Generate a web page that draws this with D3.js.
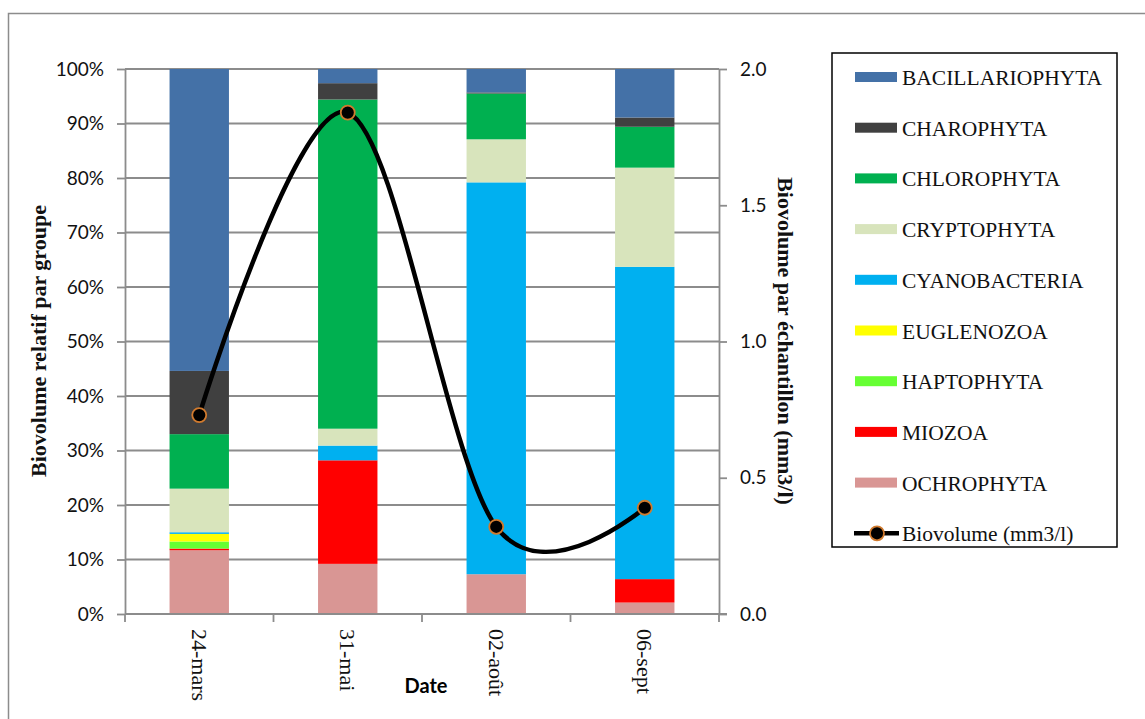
<!DOCTYPE html>
<html><head><meta charset="utf-8">
<script src="https://cdn.jsdelivr.net/npm/d3@7"></script>
<style>body{margin:0;background:#fff}svg{display:block}</style>
</head><body>
<svg id="c" width="1145" height="719"></svg>
<script>
const dates = ["24-mars","31-mai","02-août","06-sept"];
const groups = ["BACILLARIOPHYTA","CHAROPHYTA","CHLOROPHYTA","CRYPTOPHYTA","CYANOBACTERIA","EUGLENOZOA","HAPTOPHYTA","MIOZOA","OCHROPHYTA"];
const bacillariophyta = [55.4, 2.6, 4.3, 8.9];
const charophyta      = [11.6, 3.0, 0.2, 1.7];
const chlorophyta     = [10.0, 60.4, 8.4, 7.5];
const cryptophyta     = [8.0, 3.1, 7.9, 18.2];
const cyanobacteria   = [0.3, 2.7, 71.9, 57.3];
const euglenozoa      = [1.4, 0, 0, 0];
const haptophyta      = [1.3, 0, 0, 0];
const miozoa          = [0.3, 19.0, 0, 4.3];
const ochrophyta      = [11.7, 9.2, 7.3, 2.1];
const biovolume       = [0.73, 1.84, 0.32, 0.39];
const leftTicks  = [0,10,20,30,40,50,60,70,80,90,100];
const rightTicks = [0,0.5,1.0,1.5,2.0];
const colors = ["#4471a7","#404040","#00b050","#d8e4bc","#00b0f0","#ffff00","#66ff33","#ff0000","#d99694"];

const seriesVals = [bacillariophyta,charophyta,chlorophyta,cryptophyta,cyanobacteria,euglenozoa,haptophyta,miozoa,ochrophyta];
const rows = dates.map((d,i)=>{const r={date:d}; groups.forEach((g,j)=>r[g]=seriesVals[j][i]); return r;});

const svg = d3.select("#c");
const L=125, R=719, T=69, B=614;
const x = d3.scaleBand().domain(dates).range([L,R]).paddingInner(0.6).paddingOuter(0.3);
const xb = d3.scaleBand().domain(dates).range([L,R]);
const y = d3.scaleLinear().domain([0,100]).range([B,T]);
const y2 = d3.scaleLinear().domain([0,2]).range([B,T]);

// outer border
svg.append("rect").attr("x",8.5).attr("y",13.5).attr("width",1150).attr("height",720)
  .attr("fill","none").attr("stroke","#8c8c8c").attr("stroke-width",1.5);

// gridlines
svg.append("g").selectAll("line").data(leftTicks.slice(1)).join("line")
  .attr("x1",L).attr("x2",R).attr("y1",d=>y(d)).attr("y2",d=>y(d))
  .attr("stroke","#8c8c8c").attr("stroke-width",1.8);

// stacked bars (bottom-up order is reverse of legend)
const stack = d3.stack().keys(groups.slice().reverse());
const st = stack(rows);
svg.append("g").selectAll("g").data(st).join("g")
  .attr("fill",d=>colors[groups.indexOf(d.key)])
  .selectAll("rect").data(d=>d).join("rect")
  .attr("x",d=>x(d.data.date)).attr("width",x.bandwidth())
  .attr("y",d=>y(d[1])).attr("height",d=>y(d[0])-y(d[1]));

// axes
const axisStyle = g=>{g.selectAll(".domain").attr("stroke","#8c8c8c").attr("stroke-width",1.8);
  g.selectAll(".tick line").attr("stroke","#8c8c8c").attr("stroke-width",1.8);
  g.selectAll("text").attr("fill","#111");};
svg.append("g").attr("transform",`translate(${L},0)`)
  .call(d3.axisLeft(y).tickValues(leftTicks).tickFormat(d=>d+"%").tickSize(8).tickSizeOuter(0).tickPadding(13))
  .call(axisStyle).selectAll("text").attr("font-family","Lato, 'Open Sans', sans-serif").attr("font-size",19);
svg.append("g").attr("transform",`translate(${R},0)`)
  .call(d3.axisRight(y2).tickValues(rightTicks).tickFormat(d3.format(".1f")).tickSize(8).tickSizeOuter(0).tickPadding(13))
  .call(axisStyle).selectAll("text").attr("font-family","Lato, 'Open Sans', sans-serif").attr("font-size",19);
const gx = svg.append("g").attr("transform",`translate(0,${B})`);
gx.append("line").attr("x1",L).attr("x2",R+8).attr("stroke","#8c8c8c").attr("stroke-width",1.8);
gx.selectAll("line.t").data(dates.concat(["end"])).join("line").attr("class","t")
  .attr("x1",(d,i)=>i<dates.length?xb(d):R).attr("x2",(d,i)=>i<dates.length?xb(d):R)
  .attr("y1",0).attr("y2",8).attr("stroke","#8c8c8c").attr("stroke-width",1.8);
gx.selectAll("text").data(dates).join("text")
  .attr("transform",d=>`translate(${xb(d)+xb.bandwidth()/2},15) rotate(90)`)
  .attr("dominant-baseline","central").attr("text-anchor","start")
  .attr("font-family","'Liberation Serif', 'Times New Roman', serif").attr("font-size",22).attr("fill","#111")
  .text(d=>d);

// titles
svg.append("text").attr("transform","translate(38,341) rotate(-90)")
  .attr("text-anchor","middle").attr("dominant-baseline","central")
  .attr("font-family","'Liberation Serif', serif").attr("font-weight","bold").attr("font-size",22).attr("fill","#111")
  .text("Biovolume relatif par groupe");
svg.append("text").attr("transform","translate(785,341) rotate(90)")
  .attr("text-anchor","middle").attr("dominant-baseline","central")
  .attr("font-family","'Liberation Serif', serif").attr("font-weight","bold").attr("font-size",22).attr("fill","#111")
  .text("Biovolume par échantillon (mm3/l)");
svg.append("text").attr("x",426).attr("y",693).attr("text-anchor","middle")
  .attr("font-family","Lato, 'Open Sans', sans-serif").attr("font-weight","bold").attr("font-size",20)
  .text("Date");

// line
const line = d3.line().x((d,i)=>xb(dates[i])+xb.bandwidth()/2).y(d=>y2(d)).curve(d3.curveCardinal.tension(0));
svg.append("path").attr("d",line(biovolume)).attr("fill","none").attr("stroke","#000").attr("stroke-width",4.5);
svg.append("g").selectAll("circle").data(biovolume).join("circle")
  .attr("cx",(d,i)=>xb(dates[i])+xb.bandwidth()/2).attr("cy",d=>y2(d)).attr("r",7)
  .attr("fill","#000").attr("stroke","#d07a2e").attr("stroke-width",1.8);

// legend
const lg = svg.append("g");
lg.append("rect").attr("x",832).attr("y",53).attr("width",285).attr("height",494)
  .attr("fill","#fff").attr("stroke","#000").attr("stroke-width",1.5);
const items = groups.concat(["Biovolume (mm3/l)"]);
const ly = i=>77+i*50.7;
items.forEach((g,i)=>{
  if(i<groups.length){
    lg.append("rect").attr("x",855).attr("y",ly(i)-5).attr("width",42).attr("height",10).attr("fill",colors[i]);
  } else {
    lg.append("line").attr("x1",854).attr("x2",899).attr("y1",ly(i)).attr("y2",ly(i)).attr("stroke","#000").attr("stroke-width",4.5);
    lg.append("circle").attr("cx",877).attr("cy",ly(i)).attr("r",7).attr("fill","#000").attr("stroke","#d07a2e").attr("stroke-width",1.8);
  }
  lg.append("text").attr("x",902).attr("y",ly(i)+1).attr("dominant-baseline","central")
    .attr("font-family","'Liberation Serif', 'Times New Roman', serif").attr("font-size",21.5).attr("fill","#111")
    .text(g);
});
</script>
</body></html>
